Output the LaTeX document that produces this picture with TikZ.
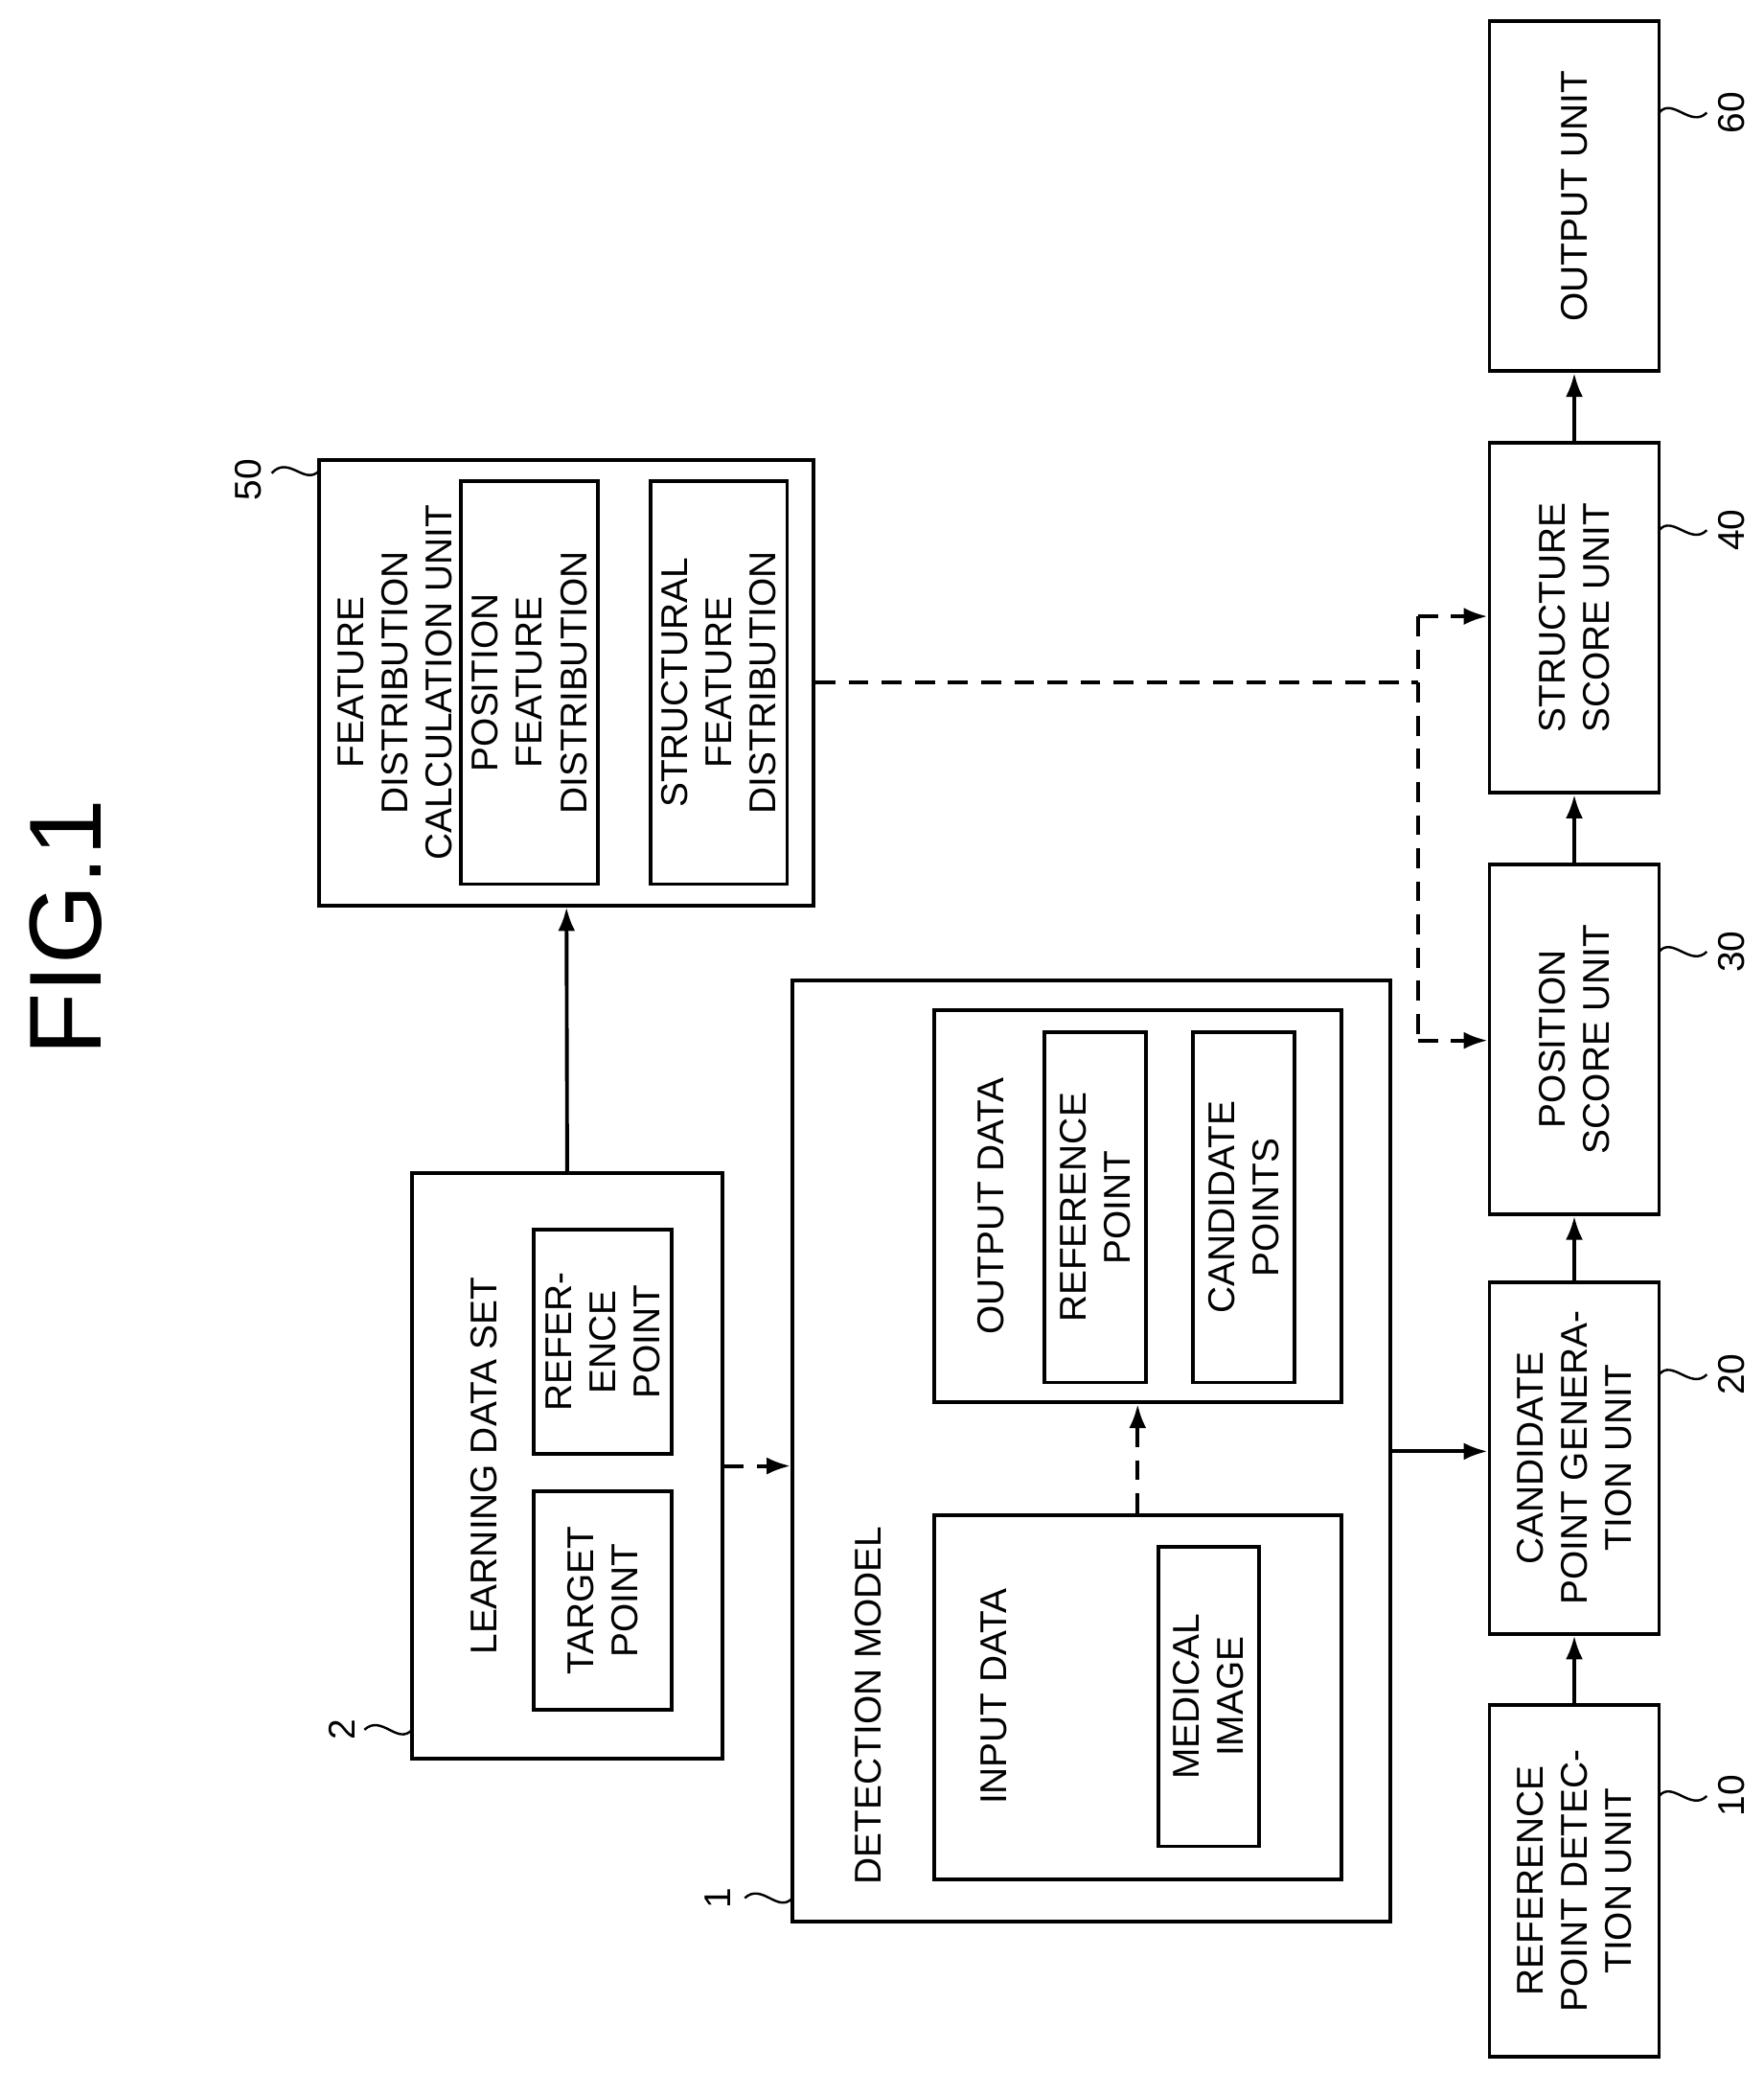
\documentclass[tikz,border=0pt]{standalone}
\usepackage{fontspec}
\setmainfont{Liberation Sans}
\usetikzlibrary{arrows.meta,calc}
\begin{document}
\begin{tikzpicture}[x=0.02cm,y=-0.02cm,
 box/.style={draw,line width=1.6pt,rotate=90,inner sep=0pt,align=center,font=\fontsize{16}{19}\selectfont},
 txt/.style={rotate=90,align=center,inner sep=0pt,font=\fontsize{16}{19}\selectfont},
 arr/.style={line width=1.6pt,-{Latex[length=0.36cm,width=0.26cm]}},
 dsh/.style={arr,dash pattern=on 0.3cm off 0.2cm},
 sq/.style={line width=1pt}]
\useasboundingbox (0,0) rectangle (1331,1564);
\node[rotate=90,font=\fontsize{44}{50}\selectfont] (fig) at (50,700) {FIG.1};
% right column
\node[box,minimum width=264*0.02cm,minimum height=128*0.02cm] (u60) at (1188,148) {OUTPUT UNIT};
\node[box,minimum width=264*0.02cm,minimum height=128*0.02cm] (u40) at (1188,466) {STRUCTURE\\SCORE UNIT};
\node[box,minimum width=264*0.02cm,minimum height=128*0.02cm] (u30) at (1188,784) {POSITION\\SCORE UNIT};
\node[box,minimum width=265*0.02cm,minimum height=128*0.02cm] (u20) at (1188,1100) {CANDIDATE\\POINT GENERA-\\TION UNIT};
\node[box,minimum width=265*0.02cm,minimum height=128*0.02cm] (u10) at (1188,1419) {REFERENCE\\POINT DETEC-\\TION UNIT};
\draw[arr] (u10.east) -- (u20.west);
\draw[arr] (u20.east) -- (u30.west);
\draw[arr] (u30.east) -- (u40.west);
\draw[arr] (u40.east) -- (u60.west);
% feature distribution
\node[box,minimum width=336*0.02cm,minimum height=373*0.02cm] (u50) at (427.5,515) {};
\node[txt] (t50) at (298,515) {FEATURE\\DISTRIBUTION\\CALCULATION UNIT};
\node[box,minimum width=304*0.02cm,minimum height=103*0.02cm] (pfd) at (399.5,515) {POSITION\\FEATURE\\DISTRIBUTION};
\node[box,minimum width=304*0.02cm,minimum height=103*0.02cm] (sfd) at (542.5,515) {STRUCTURAL\\FEATURE\\DISTRIBUTION};
% learning data set
\node[box,minimum width=442*0.02cm,minimum height=234*0.02cm] (u2) at (428,1106) {};
\node[txt] (t2) at (365,1106) {LEARNING DATA SET};
\node[box,minimum width=165*0.02cm,minimum height=104*0.02cm] (tp) at (455,1207.5) {TARGET\\POINT};
\node[box,minimum width=169*0.02cm,minimum height=104*0.02cm] (rp) at (455,1012.5) {REFER-\\ENCE\\POINT};
% detection model
\node[box,minimum width=710*0.02cm,minimum height=451*0.02cm] (u1) at (823.5,1095) {};
\node[txt,anchor=west] (t1) at (655,1422) {DETECTION MODEL};
\node[box,minimum width=275*0.02cm,minimum height=307*0.02cm] (inp) at (858.5,1280.5) {};
\node[txt] (tin) at (750,1280) {INPUT DATA};
\node[box,minimum width=226*0.02cm,minimum height=76*0.02cm] (mi) at (912,1280) {MEDICAL\\IMAGE};
\node[box,minimum width=296*0.02cm,minimum height=307*0.02cm] (out) at (858.5,910) {};
\node[txt] (tout) at (748,910) {OUTPUT DATA};
\node[box,minimum width=264*0.02cm,minimum height=77*0.02cm] (orp) at (826.5,911) {REFERENCE\\POINT};
\node[box,minimum width=264*0.02cm,minimum height=77*0.02cm] (ocp) at (938.5,911) {CANDIDATE\\POINTS};
% connectors
\draw[arr] (u2.east) -- (u50.west);
\draw[dsh] (u2.south) -- (u1.north |- u2.south);
\draw[arr] (u1.south) -- (u20.north |- u1.south);
\draw[dsh] (inp.east) -- (out.west);
\coordinate (j) at (1070,515);
\coordinate (j1) at (1070,465);
\coordinate (j2) at (1070,785);
\draw[line width=1.6pt,dash pattern=on 0.3cm off 0.2cm] (u50.south) -- (j);
\draw[line width=1.6pt,dash pattern=on 0.3cm off 0.2cm] (j1) -- (j2);
\draw[dsh] (j1) -- (u40.north |- j1);
\draw[dsh] (j2) -- (u30.north |- j2);
% reference numerals
\foreach \n/\y in {60/85,40/400,30/718,20/1037,10/1355}{
 \draw[sq] (1252,\y) .. controls (1262,\y-12) and (1276,\y+12) .. (1288,\y);
 \node[rotate=90,font=\fontsize{16}{19}\selectfont] (n\n) at (1307,\y) {\n};
}
\draw[sq] (241,355) .. controls (230,367) and (218,343) .. (205,357);
\node[rotate=90,font=\fontsize{16}{19}\selectfont] (n50) at (187,362) {50};
\draw[sq] (311,1305) .. controls (300,1317) and (288,1293) .. (275,1305);
\node[rotate=90,font=\fontsize{16}{19}\selectfont] (n2) at (258,1305) {2};
\draw[sq] (598,1432) .. controls (587,1444) and (575,1420) .. (562,1432);
\node[rotate=90,font=\fontsize{16}{19}\selectfont] (n1) at (542,1432) {1};
\end{tikzpicture}
\end{document}
